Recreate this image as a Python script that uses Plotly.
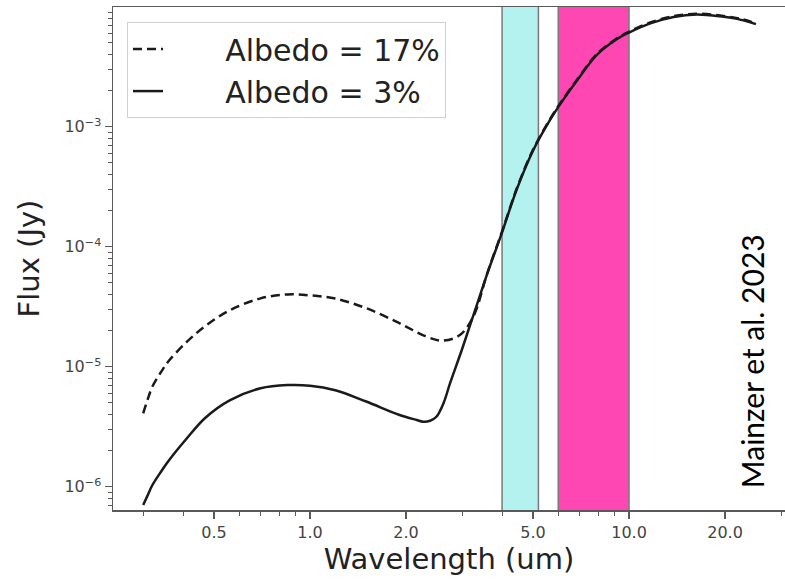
import plotly.graph_objects as go

# ---- data ----
wl_low = [0.30, 0.31, 0.32, 0.34, 0.36, 0.41, 0.47, 0.56, 0.70, 0.85, 1.0, 1.2, 1.5, 1.9,
          2.16, 2.26, 2.38, 2.49, 2.62, 2.75, 3.0, 3.3, 3.6]
logf_3 = [-6.153, -6.07, -5.99, -5.88, -5.785, -5.60, -5.425, -5.28, -5.18, -5.153, -5.158,
          -5.196, -5.29, -5.40, -5.444, -5.458, -5.45, -5.417, -5.305, -5.135, -4.85, -4.52, -4.22]

wl_low17 = [0.30, 0.31, 0.32, 0.34, 0.36, 0.41, 0.47, 0.56, 0.70, 0.85, 1.0, 1.2, 1.5, 1.9,
            2.3, 2.6, 2.95, 3.25, 3.6]
logf_17 = [-5.388, -5.27, -5.17, -5.05, -4.955, -4.795, -4.66, -4.53, -4.43, -4.397, -4.405,
           -4.432, -4.512, -4.635, -4.745, -4.783, -4.736, -4.583, -4.215]

wl_high = [4.0, 4.45, 5.0, 5.65, 6.2, 7.0, 7.9, 9.1, 10.0, 11.6, 13.8, 16.3, 19.3, 22.3, 25.0]
logf_high_3 = [-3.88, -3.52, -3.20, -2.945, -2.78, -2.585, -2.405, -2.275, -2.215, -2.14,
               -2.085, -2.065, -2.08, -2.107, -2.145]
logf_high_17 = [-3.873, -3.513, -3.193, -2.938, -2.773, -2.578, -2.398, -2.268, -2.208, -2.133,
                -2.078, -2.058, -2.073, -2.100, -2.138]

bands = [(4.0, 5.2), (6.0, 10.0)]
band_colors = ["#b3f2ef", "#ff47b4"]

x_major = [0.5, 1.0, 2.0, 5.0, 10.0, 20.0]
x_major_text = ["0.5", "1.0", "2.0", "5.0", "10.0", "20.0"]
x_minor = [0.3, 0.4, 0.6, 0.7, 0.8, 0.9, 3, 4, 6, 7, 8, 9, 30]
y_major = [1e-6, 1e-5, 1e-4, 1e-3]
y_major_text = ["10<sup>−6</sup>", "10<sup>−5</sup>", "10<sup>−4</sup>", "10<sup>−3</sup>"]
y_minor = [m * 10.0 ** e for e in (-7, -6, -5, -4, -3) for m in range(2, 10)
           if 6.4e-7 < m * 10.0 ** e < 1e-2]

# ---- build series ----
x3 = wl_low + wl_high
y3 = [10 ** v for v in logf_3 + logf_high_3]
x17 = wl_low17 + wl_high
y17 = [10 ** v for v in logf_17 + logf_high_17]

fig = go.Figure()
for (a, b), c in zip(bands, band_colors):
    fig.add_trace(go.Scatter(
        x=[a, a, b, b, a], y=[1e-8, 1, 1, 1e-8, 1e-8], mode="lines",
        fill="toself", fillcolor=c, line=dict(color="#7a7a7a", width=1.5),
        showlegend=False, hoverinfo="skip"))

pad = "\u00a0" * 6
fig.add_trace(go.Scatter(
    x=x17, y=y17, mode="lines", name=pad + "Albedo = 17%",
    line=dict(color="#1a1a1a", width=2.5, dash="9px,5px", shape="spline", smoothing=1.0)))
fig.add_trace(go.Scatter(
    x=x3, y=y3, mode="lines", name=pad + "Albedo = 3%",
    line=dict(color="#1a1a1a", width=2.5, shape="spline", smoothing=1.0)))

axis_col = "#5a5a5a"
fig.update_layout(
    width=785, height=580,
    margin=dict(l=113, r=0, t=7, b=70, autoexpand=False),
    paper_bgcolor="white", plot_bgcolor="white",
    font=dict(family="DejaVu Sans", color="#222"),
    hovermode=False,
    xaxis=dict(
        type="log", range=[-0.6176, 1.489], showgrid=False, zeroline=False,
        showline=True, linecolor=axis_col, linewidth=1.5, mirror=True, automargin=False,
        ticks="outside", ticklen=7, tickwidth=1.2, tickcolor=axis_col,
        tickvals=x_major, ticktext=x_major_text,
        tickfont=dict(size=16, color="#444"),
        minor=dict(tickvals=x_minor, ticks="outside", ticklen=4, tickcolor=axis_col, tickwidth=1),
        title=dict(text="Wavelength (um)", font=dict(size=29, color="#222"), standoff=0),
    ),
    yaxis=dict(
        type="log", range=[-6.194, -2.002], showgrid=False, zeroline=False,
        showline=True, linecolor=axis_col, linewidth=1.5, mirror=False, automargin=False,
        ticks="outside", ticklen=7, tickwidth=1.2, tickcolor=axis_col,
        tickvals=y_major, ticktext=y_major_text,
        tickfont=dict(size=16, color="#444"),
        minor=dict(tickvals=y_minor, ticks="outside", ticklen=4, tickcolor=axis_col, tickwidth=1),
        title=dict(text="Flux (Jy)", font=dict(size=29, color="#222"), standoff=16),
    ),
    legend=dict(
        x=0.0208, y=0.970, xanchor="left", yanchor="top",
        font=dict(size=30, color="#222"), bgcolor="white",
        bordercolor="#d0d0d0", borderwidth=1,
    ),
    annotations=[dict(
        text="Mainzer et al. 2023", textangle=-90, x=0.951, y=0.296,
        xanchor="center", yanchor="middle",
        xref="paper", yref="paper", showarrow=False,
        font=dict(family="Lato", size=30, color="black"),
    )],
)

fig.write_html(
    "out.html",
    config={"displayModeBar": False, "staticPlot": True},
    post_script="document.body.style.margin='0';document.body.style.overflow='hidden';",
)
